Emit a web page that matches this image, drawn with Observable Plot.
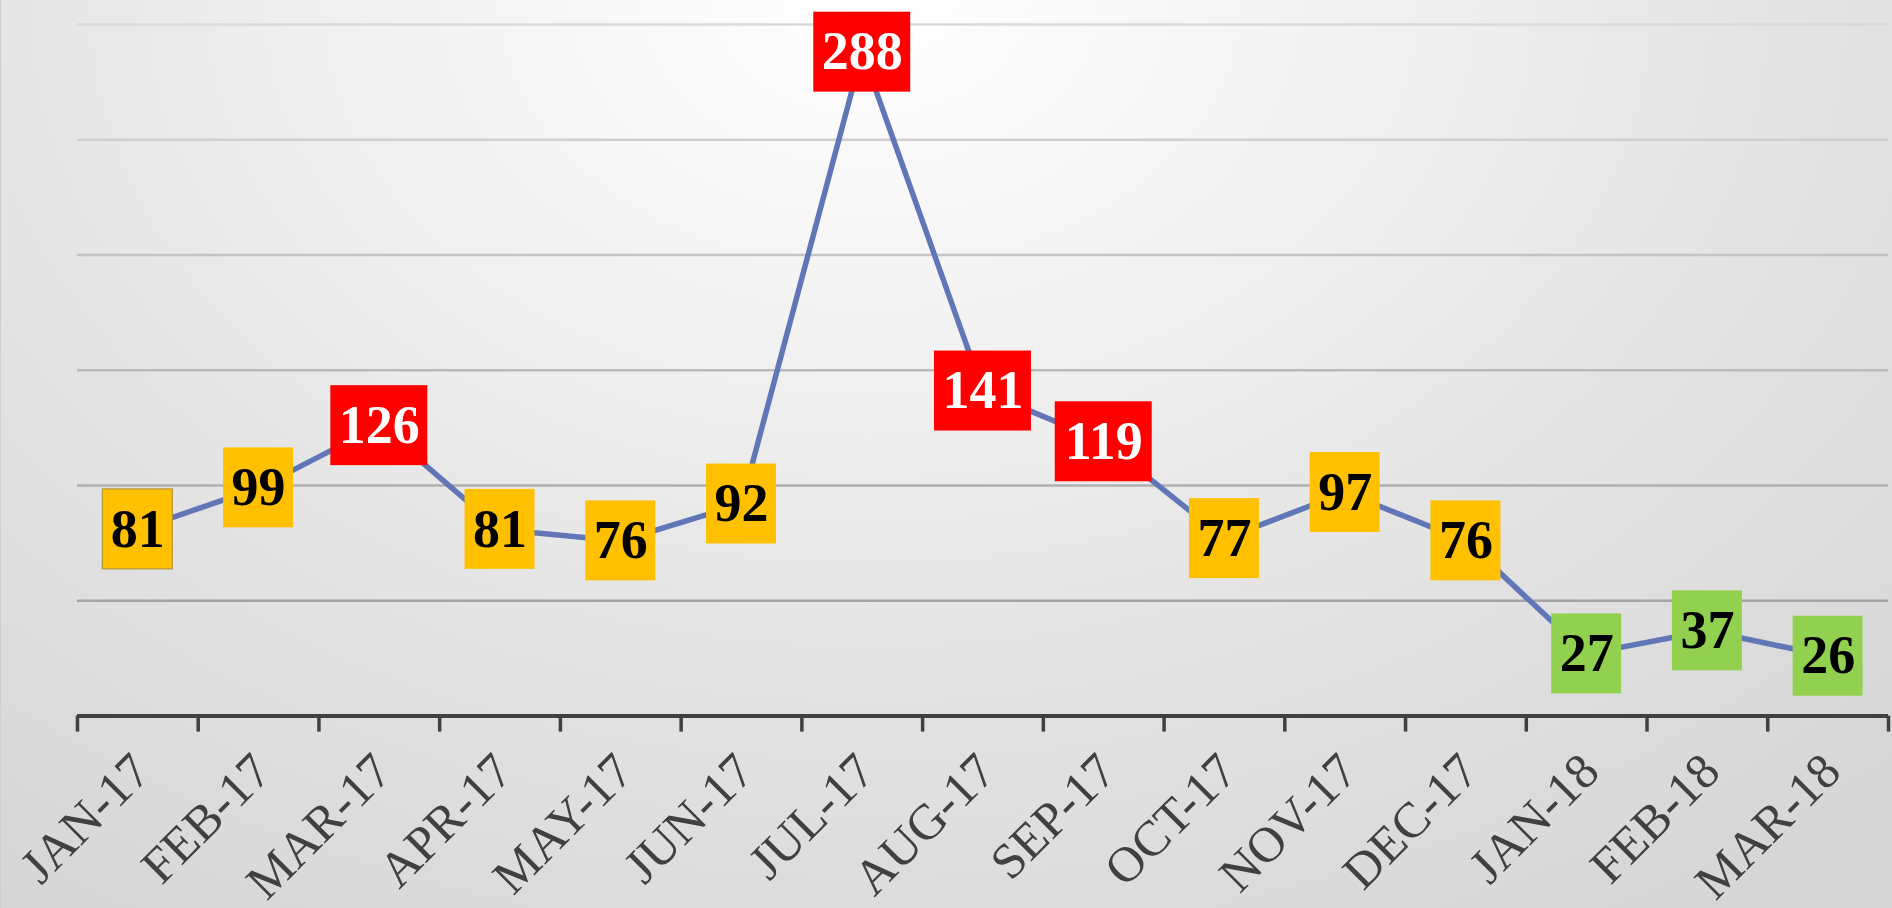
<!DOCTYPE html>
<html>
<head>
<meta charset="utf-8">
<script src="https://cdn.jsdelivr.net/npm/d3@7"></script>
<script src="https://cdn.jsdelivr.net/npm/@observablehq/plot@0.6"></script>
<style>
  html, body { margin: 0; padding: 0; }
  body {
    width: 1892px; height: 908px; overflow: hidden;
    background: radial-gradient(ellipse 80% 120% at 46% 0%, #ffffff 0%, #f5f5f5 25%, #e4e4e4 60%, #d6d6d6 100%);
  }
  #chart { position: relative; width: 1892px; height: 908px; border-left: 1px solid #cfcfcf; box-sizing: border-box; }
  svg { display: block; }
</style>
</head>
<body>
<div id="chart"></div>
<script>
const months = ["JAN-17","FEB-17","MAR-17","APR-17","MAY-17","JUN-17","JUL-17","AUG-17","SEP-17","OCT-17","NOV-17","DEC-17","JAN-18","FEB-18","MAR-18"];
const counts = [81, 99, 126, 81, 76, 92, 288, 141, 119, 77, 97, 76, 27, 37, 26];
const gridValues = [50, 100, 150, 200, 250, 300];

const data = months.map((m, i) => ({month: m, pos: i + 0.5, value: counts[i]}));

const boxFill = v => v >= 100 ? "#FF0000" : v >= 40 ? "#FFC000" : "#92D050";
const textFill = v => v >= 100 ? "#FFFFFF" : "#000000";
const gridColor = d3.scaleLinear().domain([50, 300]).range(["#a4a4a4", "#dadada"]);
const serif = "'Liberation Serif', 'DejaVu Serif', serif";

const boxes = Plot.dot(data, {
  x: "pos", y: "value",
  render: (index, scales, values) => {
    const g = d3.create("svg:g");
    for (const i of index) {
      const n = String(data[i].value).length;
      const w = 27 * n + 16, h = 80;
      const r = g.append("rect")
        .attr("x", values.x[i] - w / 2)
        .attr("y", values.y[i] - h / 2)
        .attr("width", w).attr("height", h)
        .attr("fill", boxFill(data[i].value));
      if (i === 0) r.attr("stroke", "#b8923a").attr("stroke-width", 1.2);
    }
    return g.node();
  }
});

const chart = Plot.plot({
  width: 1892,
  height: 908,
  marginLeft: 76,
  marginRight: 4,
  marginTop: 24,
  marginBottom: 192,
  style: {background: "transparent", overflow: "visible"},
  x: {type: "linear", domain: [0, months.length], axis: null},
  y: {domain: [0, 300], axis: null},
  marks: [
    Plot.ruleY(gridValues, {stroke: d => gridColor(d), strokeWidth: 2.5}),
    Plot.ruleY([0], {stroke: "#404040", strokeWidth: 4}),
    Plot.ruleX(d3.range(months.length + 1), {x: d => d, y1: 0, y2: 0, insetBottom: -16, stroke: "#404040", strokeWidth: 3.5}),
    Plot.line(data, {x: "pos", y: "value", stroke: "#6076B6", strokeWidth: 5.5}),
    boxes,
    Plot.text(data, {
      x: "pos", y: "value", text: d => String(d.value),
      fill: d => textFill(d.value), fontWeight: "bold", fontSize: 54, fontFamily: serif
    }),
    Plot.text(data, {
      x: "pos", frameAnchor: "bottom", text: "month",
      rotate: -45, textAnchor: "end", lineAnchor: "bottom",
      dx: 15, dy: 58, fontSize: 50, fontFamily: serif, fill: "#404040"
    })
  ]
});

document.getElementById("chart").appendChild(chart);
</script>
</body>
</html>
